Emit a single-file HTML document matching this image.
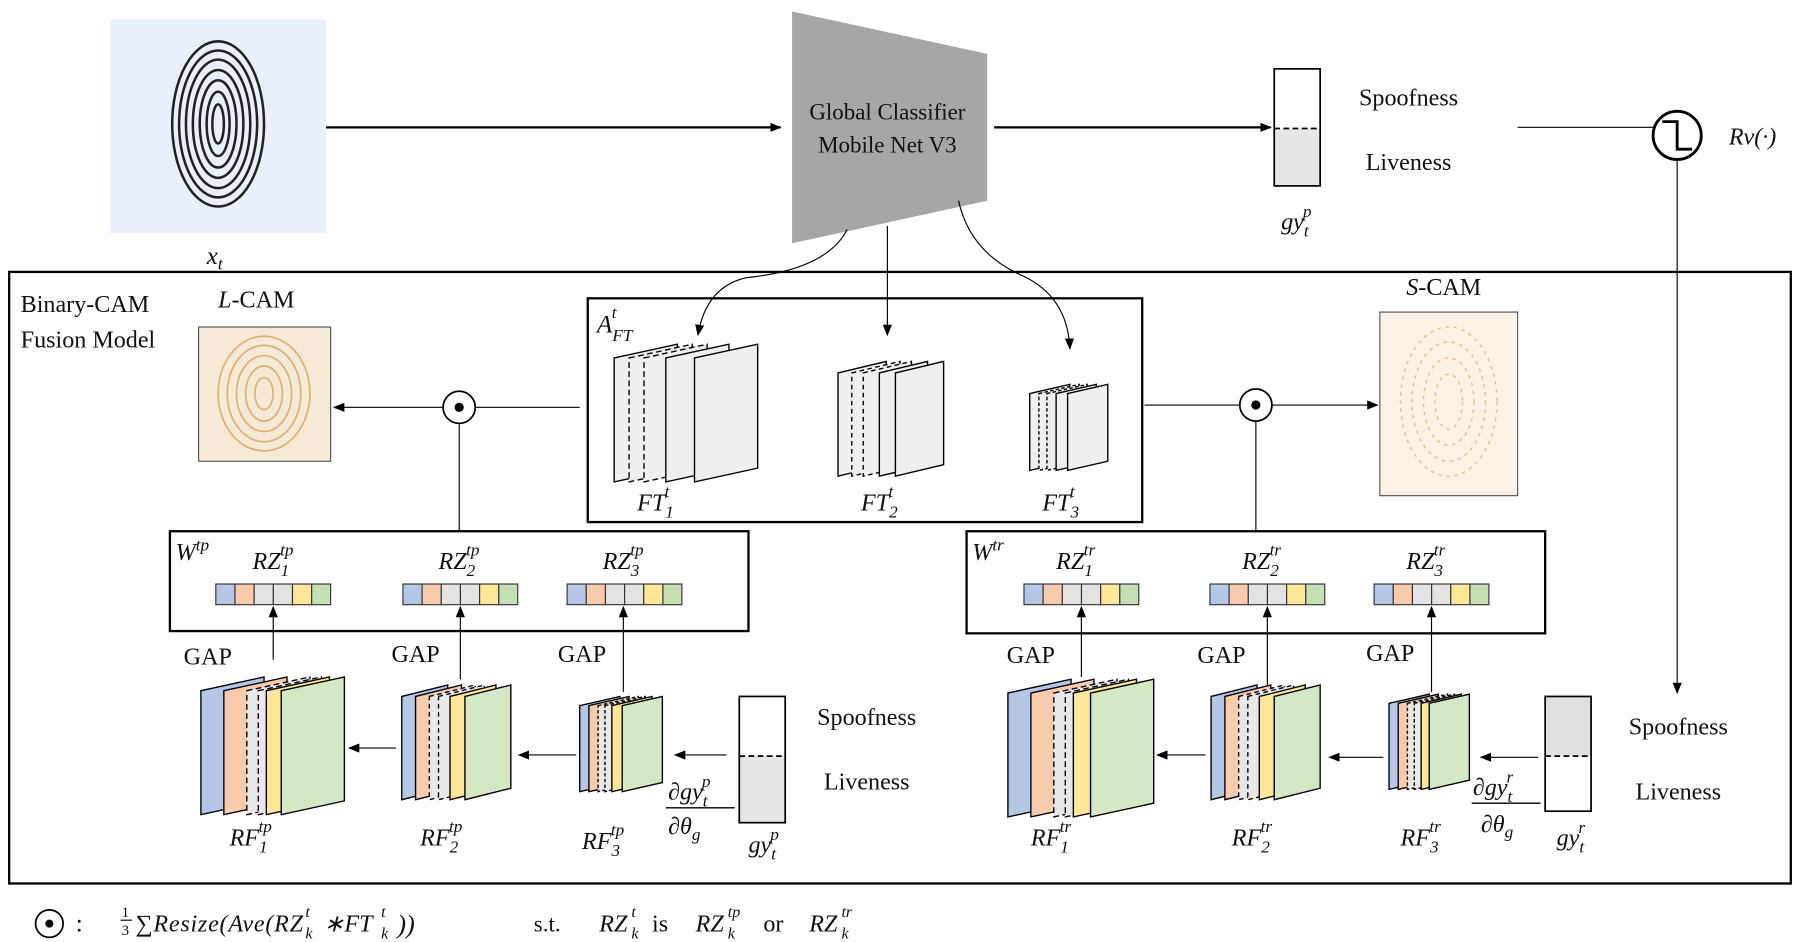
<!DOCTYPE html>
<html><head><meta charset="utf-8"><style>
html,body{margin:0;padding:0;background:#fff;}
svg{display:block;}
text{font-family:"Liberation Serif",serif;fill:#111;}
.i{font-style:italic;}
</style></head><body>
<svg width="1800" height="942" viewBox="0 0 1568 821" preserveAspectRatio="none" xmlns="http://www.w3.org/2000/svg">
<defs>
<marker id="a" markerWidth="10" markerHeight="10" refX="9" refY="5" orient="auto" markerUnits="userSpaceOnUse"><path d="M0,1 L10,5 L0,9 z" fill="#000"/></marker>
<g id="v" stroke="#333" stroke-width="1"><rect x="0" y="0" width="16.7" height="18" fill="#b4c7e7"/><rect x="16.7" y="0" width="16.7" height="18" fill="#f8cbad"/><rect x="33.4" y="0" width="16.7" height="18" fill="#e3e3e3"/><rect x="50.1" y="0" width="16.7" height="18" fill="#e3e3e3"/><rect x="66.8" y="0" width="16.7" height="18" fill="#ffe699"/><rect x="83.5" y="0" width="16.5" height="18" fill="#c5e0b4"/></g>
</defs>
<rect x="96" y="17" width="188" height="186" fill="#e9f0fb"/>
<g fill="none" stroke="#222" stroke-width="2.2">
<ellipse cx="190" cy="108" rx="40" ry="72"/>
<ellipse cx="190" cy="108" rx="34" ry="64"/>
<ellipse cx="190" cy="108" rx="28" ry="56"/>
<ellipse cx="190" cy="108" rx="22" ry="47"/>
<ellipse cx="190" cy="108" rx="16" ry="38"/>
<ellipse cx="190" cy="108" rx="10" ry="28"/>
<ellipse cx="190" cy="108" rx="5" ry="17"/>
</g>
<text x="180" y="230" font-size="22" class="i">x<tspan font-size="15" dy="5">t</tspan></text>
<line x1="284" y1="111" x2="680" y2="111" stroke="#000" stroke-width="2" marker-end="url(#a)"/>
<polygon points="690,10 860,47 860,175 690,212" fill="#a6a6a6"/>
<text x="773" y="104" font-size="20" text-anchor="middle">Global Classifier</text>
<text x="773" y="133" font-size="20" text-anchor="middle">Mobile Net V3</text>
<line x1="866" y1="111" x2="1107" y2="111" stroke="#000" stroke-width="2" marker-end="url(#a)"/>
<rect x="1110" y="112" width="40" height="50" fill="#e6e6e6"/>
<rect x="1110" y="60" width="40" height="102" fill="none" stroke="#000" stroke-width="1.5"/>
<line x1="1110" y1="112" x2="1150" y2="112" stroke="#000" stroke-width="1.5" stroke-dasharray="5,3"/>
<text x="1227" y="92" font-size="21" text-anchor="middle">Spoofness</text>
<text x="1227" y="148" font-size="21" text-anchor="middle">Liveness</text>
<text x="1116" y="200" font-size="21" class="i">gy<tspan font-size="15" dy="6">t</tspan><tspan font-size="15" dx="-5" dy="-17">p</tspan></text>
<line x1="1322" y1="111" x2="1440" y2="111" stroke="#000" stroke-width="1"/>
<circle cx="1461" cy="118" r="21" fill="none" stroke="#000" stroke-width="2.5"/>
<path d="M1448,106 H1461 V130 H1474" fill="none" stroke="#000" stroke-width="2.5"/>
<text x="1506" y="126" font-size="21" class="i">Rv(·)</text>
<line x1="1461" y1="140" x2="1461" y2="604" stroke="#000" stroke-width="1" marker-end="url(#a)"/>
<rect x="8" y="237" width="1552" height="533" fill="none" stroke="#000" stroke-width="2"/>
<text x="18" y="272" font-size="21">Binary-CAM</text>
<text x="18" y="303" font-size="21">Fusion Model</text>
<text x="190" y="268" font-size="21"><tspan class="i">L</tspan>-CAM</text>
<text x="1225" y="257" font-size="21"><tspan class="i">S</tspan>-CAM</text>
<rect x="173" y="285" width="115" height="117" fill="#f6e9d6" stroke="#555" stroke-width="1"/>
<g fill="none" stroke="#d9a45e" stroke-width="1.5" opacity="0.8">
<ellipse cx="230" cy="343" rx="40" ry="50"/><ellipse cx="230" cy="343" rx="32" ry="42"/><ellipse cx="230" cy="343" rx="24" ry="33"/><ellipse cx="230" cy="343" rx="16" ry="24"/><ellipse cx="230" cy="343" rx="8" ry="14"/>
</g>
<rect x="1202" y="272" width="120" height="160" fill="#fbf1e4" stroke="#555" stroke-width="1"/>
<g fill="none" stroke="#e2b27a" stroke-width="1.2" stroke-dasharray="3,4" opacity="0.8">
<ellipse cx="1262" cy="350" rx="42" ry="65"/><ellipse cx="1262" cy="350" rx="32" ry="52"/><ellipse cx="1262" cy="350" rx="22" ry="38"/><ellipse cx="1262" cy="350" rx="12" ry="24"/>
</g>
<rect x="512" y="260" width="483" height="195" fill="none" stroke="#000" stroke-width="2"/>
<text x="520" y="290" font-size="22" class="i">A<tspan font-size="15" dy="7">FT</tspan><tspan font-size="15" dx="-18" dy="-20">t</tspan></text>
<path d="M738,200 Q720,235 650,242 Q615,250 608,292" fill="none" stroke="#000" stroke-width="1" marker-end="url(#a)"/>
<line x1="773" y1="197" x2="773" y2="292" stroke="#000" stroke-width="1" marker-end="url(#a)"/>
<path d="M835,175 Q845,220 890,240 Q930,258 932,304" fill="none" stroke="#000" stroke-width="1" marker-end="url(#a)"/>
<g stroke="#000" stroke-width="1.2" fill="#efefef">
<polygon points="535,312 590,300 590,408 535,420"/>
<polygon points="548,312 603,300 603,408 548,420" stroke-dasharray="5,3"/>
<polygon points="561,312 616,300 616,408 561,420" stroke-dasharray="5,3"/>
<polygon points="580,312 635,300 635,408 580,420"/>
<polygon points="605,312 660,300 660,408 605,420"/>
<polygon points="730,325 772,315 772,405 730,415"/>
<polygon points="742,325 784,315 784,405 742,415" stroke-dasharray="4,3"/>
<polygon points="752,325 794,315 794,405 752,415" stroke-dasharray="4,3"/>
<polygon points="766,325 808,315 808,405 766,415"/>
<polygon points="780,325 822,315 822,405 780,415"/>
<polygon points="897,343 932,335 932,402 897,410"/>
<polygon points="905,343 940,335 940,402 905,410" stroke-dasharray="3,2"/>
<polygon points="912,343 947,335 947,402 912,410" stroke-dasharray="3,2"/>
<polygon points="920,343 955,335 955,402 920,410"/>
<polygon points="930,343 965,335 965,402 930,410"/>
</g>
<text x="555" y="445" font-size="21" class="i">FT<tspan font-size="15" dy="6">1</tspan><tspan font-size="15" dx="-8" dy="-18">t</tspan></text>
<text x="750" y="445" font-size="21" class="i">FT<tspan font-size="15" dy="6">2</tspan><tspan font-size="15" dx="-8" dy="-18">t</tspan></text>
<text x="908" y="445" font-size="21" class="i">FT<tspan font-size="15" dy="6">3</tspan><tspan font-size="15" dx="-8" dy="-18">t</tspan></text>
<line x1="505" y1="355" x2="414" y2="355" stroke="#000"/>
<line x1="386" y1="355" x2="291" y2="355" stroke="#000" marker-end="url(#a)"/>
<circle cx="400" cy="355" r="14" fill="#fff" stroke="#000" stroke-width="1.5"/><circle cx="400" cy="355" r="4" fill="#000"/>
<line x1="400" y1="369" x2="400" y2="463" stroke="#000"/>
<line x1="997" y1="353" x2="1080" y2="353" stroke="#000"/>
<line x1="1108" y1="353" x2="1200" y2="353" stroke="#000" marker-end="url(#a)"/>
<circle cx="1094" cy="353" r="14" fill="#fff" stroke="#000" stroke-width="1.5"/><circle cx="1094" cy="353" r="4" fill="#000"/>
<line x1="1094" y1="367" x2="1094" y2="463" stroke="#000"/>
<rect x="148" y="463" width="504" height="87" fill="none" stroke="#000" stroke-width="2"/>
<rect x="842" y="463" width="504" height="89" fill="none" stroke="#000" stroke-width="2"/>
<text x="153" y="488" font-size="21" class="i">W<tspan font-size="15" dy="-8">tp</tspan></text>
<text x="847" y="488" font-size="21" class="i">W<tspan font-size="15" dy="-8">tr</tspan></text>
<g font-size="21" class="i">
<text x="220" y="496">RZ<tspan font-size="15" dy="6">1</tspan><tspan font-size="15" dx="-8" dy="-18">tp</tspan></text>
<text x="382" y="496">RZ<tspan font-size="15" dy="6">2</tspan><tspan font-size="15" dx="-8" dy="-18">tp</tspan></text>
<text x="525" y="496">RZ<tspan font-size="15" dy="6">3</tspan><tspan font-size="15" dx="-8" dy="-18">tp</tspan></text>
<text x="920" y="496">RZ<tspan font-size="15" dy="6">1</tspan><tspan font-size="15" dx="-8" dy="-18">tr</tspan></text>
<text x="1082" y="496">RZ<tspan font-size="15" dy="6">2</tspan><tspan font-size="15" dx="-8" dy="-18">tr</tspan></text>
<text x="1225" y="496">RZ<tspan font-size="15" dy="6">3</tspan><tspan font-size="15" dx="-8" dy="-18">tr</tspan></text>
</g>
<use href="#v" x="188" y="509"/><use href="#v" x="351" y="509"/><use href="#v" x="494" y="509"/>
<use href="#v" x="892" y="509"/><use href="#v" x="1054" y="509"/><use href="#v" x="1197" y="509"/>
<g stroke="#000" stroke-width="1">
<line x1="238" y1="575" x2="238" y2="529" marker-end="url(#a)"/>
<line x1="401" y1="592" x2="401" y2="529" marker-end="url(#a)"/>
<line x1="543" y1="603" x2="543" y2="529" marker-end="url(#a)"/>
<line x1="942" y1="590" x2="942" y2="529" marker-end="url(#a)"/>
<line x1="1104" y1="600" x2="1104" y2="529" marker-end="url(#a)"/>
<line x1="1247" y1="603" x2="1247" y2="529" marker-end="url(#a)"/>
</g>
<g font-size="21">
<text x="160" y="579">GAP</text><text x="341" y="577">GAP</text><text x="486" y="577">GAP</text>
<text x="877" y="578">GAP</text><text x="1043" y="578">GAP</text><text x="1190" y="576">GAP</text>
</g>
<g stroke="#000" stroke-width="1.2">
<polygon points="175,602 230,590 230,698 175,710" fill="#b4c7e7"/>
<polygon points="195,602 250,590 250,698 195,710" fill="#f8cbad"/>
<polygon points="215,602 270,590 270,698 215,710" fill="#e8e8e8" stroke-dasharray="5,3"/>
<polygon points="225,602 280,590 280,698 225,710" fill="#e8e8e8" stroke-dasharray="5,3"/>
<polygon points="232,602 287,590 287,698 232,710" fill="#ffe699"/>
<polygon points="245,602 300,590 300,698 245,710" fill="#d5e8c5"/>
<polygon points="350,607 390,597 390,687 350,697" fill="#b4c7e7"/>
<polygon points="362,607 402,597 402,687 362,697" fill="#f8cbad"/>
<polygon points="374,607 414,597 414,687 374,697" fill="#e8e8e8" stroke-dasharray="4,3"/>
<polygon points="382,607 422,597 422,687 382,697" fill="#e8e8e8" stroke-dasharray="4,3"/>
<polygon points="392,607 432,597 432,687 392,697" fill="#ffe699"/>
<polygon points="405,607 445,597 445,687 405,697" fill="#d5e8c5"/>
<polygon points="505,615 540,607 540,682 505,690" fill="#b4c7e7"/>
<polygon points="513,615 548,607 548,682 513,690" fill="#f8cbad"/>
<polygon points="521,615 556,607 556,682 521,690" fill="#e8e8e8" stroke-dasharray="3,2"/>
<polygon points="527,615 562,607 562,682 527,690" fill="#e8e8e8" stroke-dasharray="3,2"/>
<polygon points="533,615 568,607 568,682 533,690" fill="#ffe699"/>
<polygon points="542,615 577,607 577,682 542,690" fill="#d5e8c5"/>
<polygon points="878,604 933,592 933,700 878,712" fill="#b4c7e7"/>
<polygon points="898,604 953,592 953,700 898,712" fill="#f8cbad"/>
<polygon points="918,604 973,592 973,700 918,712" fill="#e8e8e8" stroke-dasharray="5,3"/>
<polygon points="928,604 983,592 983,700 928,712" fill="#e8e8e8" stroke-dasharray="5,3"/>
<polygon points="935,604 990,592 990,700 935,712" fill="#ffe699"/>
<polygon points="950,604 1005,592 1005,700 950,712" fill="#d5e8c5"/>
<polygon points="1055,607 1095,597 1095,687 1055,697" fill="#b4c7e7"/>
<polygon points="1067,607 1107,597 1107,687 1067,697" fill="#f8cbad"/>
<polygon points="1079,607 1119,597 1119,687 1079,697" fill="#e8e8e8" stroke-dasharray="4,3"/>
<polygon points="1087,607 1127,597 1127,687 1087,697" fill="#e8e8e8" stroke-dasharray="4,3"/>
<polygon points="1097,607 1137,597 1137,687 1097,697" fill="#ffe699"/>
<polygon points="1110,607 1150,597 1150,687 1110,697" fill="#d5e8c5"/>
<polygon points="1210,613 1245,605 1245,680 1210,688" fill="#b4c7e7"/>
<polygon points="1218,613 1253,605 1253,680 1218,688" fill="#f8cbad"/>
<polygon points="1226,613 1261,605 1261,680 1226,688" fill="#e8e8e8" stroke-dasharray="3,2"/>
<polygon points="1232,613 1267,605 1267,680 1232,688" fill="#e8e8e8" stroke-dasharray="3,2"/>
<polygon points="1238,613 1273,605 1273,680 1238,688" fill="#ffe699"/>
<polygon points="1245,613 1280,605 1280,680 1245,688" fill="#d5e8c5"/>
</g>
<g stroke="#000" stroke-width="1">
<line x1="345" y1="652" x2="304" y2="652" marker-end="url(#a)"/>
<line x1="502" y1="658" x2="452" y2="658" marker-end="url(#a)"/>
<line x1="633" y1="658" x2="588" y2="658" marker-end="url(#a)"/>
<line x1="1050" y1="658" x2="1008" y2="658" marker-end="url(#a)"/>
<line x1="1205" y1="660" x2="1158" y2="660" marker-end="url(#a)"/>
<line x1="1340" y1="660" x2="1290" y2="660" marker-end="url(#a)"/>
</g>
<rect x="644" y="659" width="40" height="58" fill="#e6e6e6"/>
<rect x="644" y="607" width="40" height="110" fill="none" stroke="#000" stroke-width="1.5"/>
<line x1="644" y1="659" x2="684" y2="659" stroke="#000" stroke-width="1.5" stroke-dasharray="5,3"/>
<text x="755" y="632" font-size="21" text-anchor="middle">Spoofness</text>
<text x="755" y="688" font-size="21" text-anchor="middle">Liveness</text>
<rect x="1346" y="607" width="40" height="52" fill="#e0e0e0"/>
<rect x="1346" y="607" width="40" height="100" fill="none" stroke="#000" stroke-width="1.5"/>
<line x1="1346" y1="659" x2="1386" y2="659" stroke="#000" stroke-width="1.5" stroke-dasharray="5,3"/>
<text x="1462" y="640" font-size="21" text-anchor="middle">Spoofness</text>
<text x="1462" y="697" font-size="21" text-anchor="middle">Liveness</text>
<g font-size="21" class="i">
<text x="200" y="737">RF<tspan font-size="15" dy="6">1</tspan><tspan font-size="15" dx="-8" dy="-18">tp</tspan></text>
<text x="366" y="737">RF<tspan font-size="15" dy="6">2</tspan><tspan font-size="15" dx="-8" dy="-18">tp</tspan></text>
<text x="507" y="740">RF<tspan font-size="15" dy="6">3</tspan><tspan font-size="15" dx="-8" dy="-18">tp</tspan></text>
<text x="898" y="737">RF<tspan font-size="15" dy="6">1</tspan><tspan font-size="15" dx="-8" dy="-18">tr</tspan></text>
<text x="1073" y="737">RF<tspan font-size="15" dy="6">2</tspan><tspan font-size="15" dx="-8" dy="-18">tr</tspan></text>
<text x="1220" y="737">RF<tspan font-size="15" dy="6">3</tspan><tspan font-size="15" dx="-8" dy="-18">tr</tspan></text>
<text x="582" y="697">∂gy<tspan font-size="15" dy="6">t</tspan><tspan font-size="15" dx="-5" dy="-17">p</tspan></text>
<text x="582" y="727">∂θ<tspan font-size="15" dy="5">g</tspan></text>
<text x="652" y="743">gy<tspan font-size="15" dy="6">t</tspan><tspan font-size="15" dx="-5" dy="-17">p</tspan></text>
<text x="1283" y="693">∂gy<tspan font-size="15" dy="6">t</tspan><tspan font-size="15" dx="-5" dy="-17">r</tspan></text>
<text x="1290" y="725">∂θ<tspan font-size="15" dy="5">g</tspan></text>
<text x="1356" y="737">gy<tspan font-size="15" dy="6">t</tspan><tspan font-size="15" dx="-5" dy="-17">r</tspan></text>
</g>
<line x1="580" y1="704" x2="640" y2="704" stroke="#000" stroke-width="1.2"/>
<line x1="1282" y1="700" x2="1342" y2="700" stroke="#000" stroke-width="1.2"/>
<circle cx="43" cy="805" r="12" fill="none" stroke="#000" stroke-width="1.5"/><circle cx="43" cy="805" r="3.5" fill="#000"/>
<text x="66" y="812" font-size="22">:</text>
<text x="106" y="799" font-size="13">1</text><line x1="105" y1="802" x2="115" y2="802" stroke="#000"/><text x="106" y="815" font-size="13">3</text>
<g font-size="21" class="i">
<text x="118" y="812" textLength="146" lengthAdjust="spacing">∑Resize(Ave(RZ</text>
<text x="266" y="818" font-size="14">k</text><text x="266" y="799" font-size="14">t</text>
<text x="282" y="812">∗</text>
<text x="300" y="812">FT</text>
<text x="332" y="818" font-size="14">k</text><text x="332" y="799" font-size="14">t</text>
<text x="346" y="813" font-size="23">))</text>
</g>
<text x="465" y="812" font-size="20">s.t.</text>
<g font-size="21">
<text x="522" y="812" class="i">RZ</text><text x="550" y="818" font-size="14" class="i">k</text><text x="550" y="799" font-size="14" class="i">t</text>
<text x="568" y="812">is</text>
<text x="606" y="812" class="i">RZ</text><text x="634" y="818" font-size="14" class="i">k</text><text x="634" y="799" font-size="14" class="i">tp</text>
<text x="665" y="812">or</text>
<text x="705" y="812" class="i">RZ</text><text x="733" y="818" font-size="14" class="i">k</text><text x="733" y="799" font-size="14" class="i">tr</text>
</g>
</svg>
</body></html>
